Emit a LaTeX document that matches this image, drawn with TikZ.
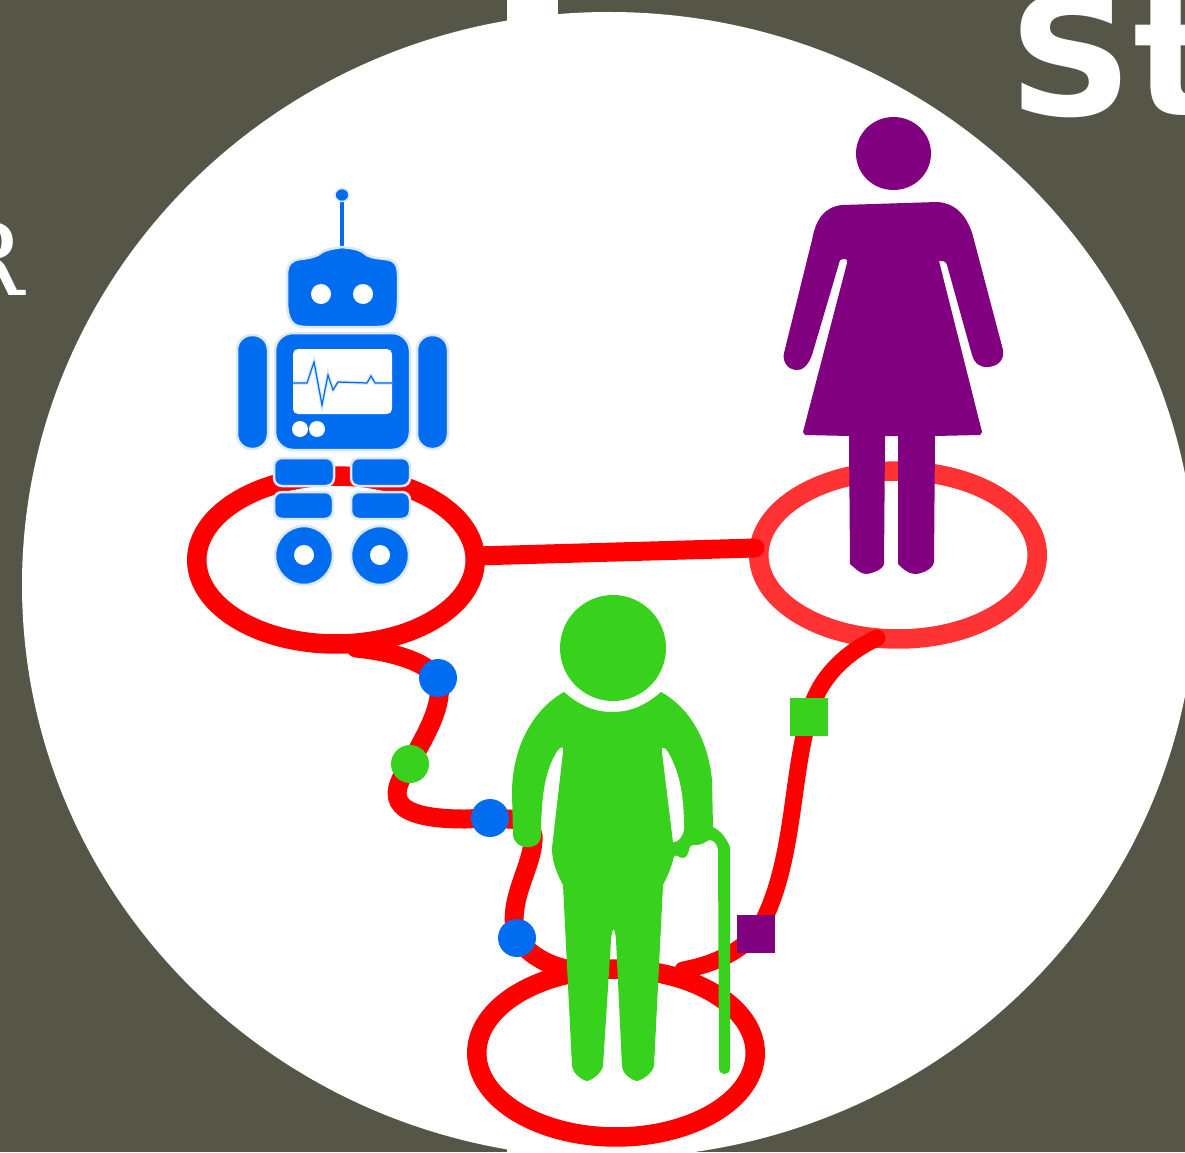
\documentclass[tikz,border=0pt]{standalone}
\usepackage{fontspec}
\usepackage{tikz}
\usetikzlibrary{shapes.geometric,backgrounds}
\newfontfamily\boldlabel{DejaVu Sans}
\newfontfamily\seriflabel{DejaVu Serif}
\definecolor{slate}{HTML}{555548}
\definecolor{robotblue}{HTML}{006DF0}
\definecolor{robothalo}{HTML}{DCE8F5}
\definecolor{eldergreen}{HTML}{38D11D}
\definecolor{womanpurple}{HTML}{800080}
\definecolor{softred}{HTML}{FF3333}
\begin{document}
\begin{tikzpicture}[x=0.02cm,y=-0.02cm,
    oval/.style={ellipse,draw=red,line width=0.39cm,minimum width=5.57cm,minimum height=3.36cm,inner sep=0pt},
    dotmark/.style={circle,minimum size=0.76cm,inner sep=0pt},
    squaremark/.style={rectangle,minimum size=0.76cm,inner sep=0pt},
    wire/.style={draw=red,line width=0.38cm,line cap=round},
    thinwire/.style={draw=red,line width=0.34cm,line cap=round},
    robotpart/.style={fill=robotblue,draw=robothalo,line width=0.05cm}]
\path[use as bounding box] (0,0) rectangle (1185,1152);
\begin{scope}[on background layer]
\fill[slate] (0,0) rectangle (1185,1152);
\fill[white] (609,585) ellipse (587 and 573);
\fill[white] (507,0) rectangle (558,40);
\fill[white] (507,1120) rectangle (558,1152);
\node[oval] (ovalrobot) at (336,560) {};
\node[oval,draw=softred] (ovalwoman) at (898,555) {};
\node[oval] (ovalelder) at (616,1053) {};
\end{scope}
\node[anchor=base west,text=white,font=\boldlabel\bfseries\fontsize{94pt}{94pt}\selectfont,inner sep=0pt,xscale=1.05] (titlest) at (1008,116) {St};
\node[anchor=base east,text=white,font=\seriflabel\fontsize{57pt}{57pt}\selectfont,inner sep=0pt] (sider) at (24,295) {R};
\node[dotmark,fill=robotblue] (dotone) at (438,678) {};
\node[dotmark,fill=eldergreen] (dottwo) at (410,764) {};
\node[dotmark,fill=robotblue] (dotthree) at (490,818) {};
\node[dotmark,fill=robotblue] (dotfour) at (517,938) {};
\node[squaremark,fill=eldergreen] (squaregreen) at (809,717) {};
\node[squaremark,fill=womanpurple] (squarepurple) at (756,934) {};
\coordinate (robotfoot) at (356,648);
\coordinate (armend) at (525,820);
\coordinate (armstart) at (533,835);
\coordinate (legend) at (580,971);
\coordinate (womanfoot) at (877,638);
\coordinate (womanend) at (755,548);
\coordinate (elderend) at (683,970);
\begin{scope}[on background layer]
\draw[wire] (ovalrobot) -- (womanend);
\draw[wire] (robotfoot) .. controls (395,652) and (425,662) .. (dotone.center) .. controls (445,705) and (425,735) .. (dottwo.center) .. controls (392,790) and (380,819) .. (465,819) -- (dotthree.center) -- (armend);
\draw[wire] (armstart) .. controls (535,865) and (505,900) .. (dotfour.center) .. controls (525,950) and (545,968) .. (legend);
\draw[thinwire] (womanfoot) .. controls (840,655) and (815,685) .. (squaregreen.center) .. controls (790,780) and (795,870) .. (squarepurple.center) .. controls (735,955) and (710,965) .. (elderend);
\end{scope}
\fill[womanpurple] (893.5,153.5) ellipse (37.5 and 36.5);
\fill[womanpurple] (842,205) -- (937,202) .. controls (955,203) and (968,215) .. (974,240) -- (1003,350) .. controls (1005,362) and (995,367) .. (987,367) .. controls (978,367) and (974,362) .. (972,355) -- (947,265) .. controls (946,261) and (943,261) .. (939,261) -- (982,432) -- (980,435) -- (935,436) -- (934,562) .. controls (933,570) and (920,574) .. (915,574) .. controls (908,574) and (902,568) .. (898,564) -- (898,436) -- (885,436) -- (884,564) .. controls (883,570) and (870,574) .. (866,574) .. controls (860,574) and (855,568) .. (850,564) -- (849,436) -- (805,435) -- (803,432) -- (847,263) .. controls (848,259) and (845,258) .. (840,260) -- (812,355) .. controls (808,366) and (802,371) .. (795,370) .. controls (788,369) and (782,362) .. (784,353) -- (812,240) .. controls (816,218) and (825,207) .. (842,205) -- cycle;
\fill[eldergreen] (613,648) circle (53);
\fill[eldergreen] (564,692) .. controls (580,706) and (595,712) .. (612,712) .. controls (630,712) and (645,706) .. (661,692) .. controls (690,708) and (708,740) .. (712,780) -- (713,827) .. controls (722,832) and (726,838) .. (730,847) -- (730,1068) .. controls (730,1076) and (719,1076) .. (719,1068) -- (718,850) .. controls (717,842) and (711,838) .. (707,841) .. controls (702,845) and (698,845) .. (692,845) .. controls (688,846) and (690,857) .. (683,858) .. controls (679,858) and (677,854) .. (674,856) .. controls (672,866) and (668,875) .. (663,885) -- (654,1066) .. controls (652,1074) and (642,1080) .. (637,1081) .. controls (632,1080) and (623,1075) .. (622,1066) -- (616,940) .. controls (615,926) and (612,926) .. (611,940) -- (603,1066) .. controls (601,1074) and (592,1080) .. (587,1081) .. controls (582,1080) and (573,1074) .. (572,1066) -- (563,885) .. controls (555,870) and (552,860) .. (552,848) -- (563,752) .. controls (564,746) and (561,746) .. (558,750) .. controls (548,765) and (541,785) .. (541,837) .. controls (540,850) and (515,852) .. (513,835) -- (512,793) .. controls (512,745) and (535,708) .. (564,692) -- cycle;
\fill[white] (662,752) .. controls (661,746) and (665,747) .. (668,752) .. controls (678,770) and (684,790) .. (684,828) .. controls (684,835) and (678,843) .. (673,842) -- cycle;
\draw[robotblue,line width=0.07cm] (342,198) -- (342,250);
\draw[robotpart,line width=0.03cm] (342,195) ellipse (7 and 6.5);
\draw[robotpart] (300,259) .. controls (310,258) and (318,256) .. (322,252) .. controls (330,248) and (338,248) .. (342,247) .. controls (348,248) and (358,248) .. (364,253) .. controls (368,257) and (375,258) .. (385,259) .. controls (395,260) and (398,265) .. (398,275) -- (398,300) .. controls (398,320) and (392,327) .. (378,327) -- (305,327) .. controls (292,327) and (287,320) .. (287,300) -- (287,275) .. controls (287,264) and (292,260) .. (300,259) -- cycle;
\fill[white] (321,294) circle (10) (363,294) circle (10);
\draw[robotpart,rounded corners=0.36cm] (275,333) rectangle (410,450);
\fill[white,rounded corners=0.1cm] (293,349) rectangle (392,414);
\draw[robothalo,line width=0.07cm] (293,383) -- (307,383) -- (314,362) -- (322,405) -- (328,375) -- (333,390) -- (338,382) -- (367,383) -- (371,376) -- (375,383) -- (392,383);
\draw[robotblue,line width=0.025cm] (293,383) -- (307,383) -- (314,362) -- (322,405) -- (328,375) -- (333,390) -- (338,382) -- (367,383) -- (371,376) -- (375,383) -- (392,383);
\fill[white] (300,429) circle (8) (317,429) circle (8);
\draw[robotpart,rounded corners=0.3cm] (237,335) rectangle (268,449);
\draw[robotpart,rounded corners=0.3cm] (417,335) rectangle (448,449);
\draw[robotpart,rounded corners=0.16cm] (274,458) rectangle (334,486);
\draw[robotpart,rounded corners=0.16cm] (351,458) rectangle (410,486);
\draw[robotpart,rounded corners=0.16cm] (274,492) rectangle (333,519);
\draw[robotpart,rounded corners=0.16cm] (351,492) rectangle (410,519);
\draw[robotpart] (304,555.5) ellipse (29 and 29.5);
\draw[robotpart] (380,555.5) ellipse (29 and 29.5);
\fill[white] (304,555) circle (10) (380,555) circle (10);
\end{tikzpicture}
\end{document}
